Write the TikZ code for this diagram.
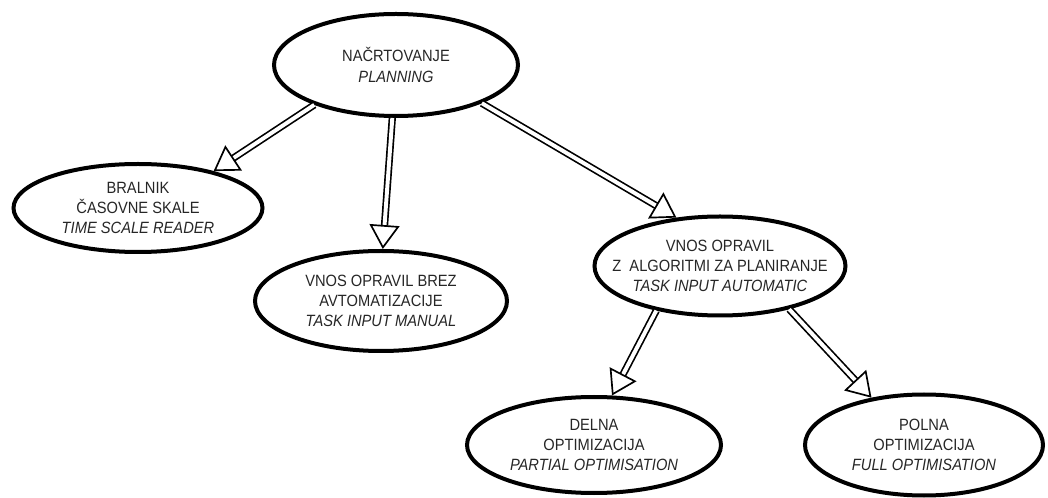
\documentclass[tikz,border=0pt]{standalone}
\usepackage{fontspec}
\setmainfont{Liberation Sans}[FakeStretch=0.9]
\usepackage{tikz}
\usetikzlibrary{positioning, arrows.meta, shapes.geometric}

\begin{document}
\begin{tikzpicture}[on grid,
    stage/.style={draw, ellipse, line width=0.1cm, inner xsep=-1cm, inner ysep=-0.2cm,
        align=center, text=black!85, font=\fontsize{11.6}{14.4}\selectfont},
    dbl/.style={double, double distance=2.8pt, line width=1.2pt,
        -{Triangle[open, length=0.6cm, width=0.75cm, line width=1.2pt]}}]
    \useasboundingbox (0,0) rectangle (26.2,-12.45);

    \node (A) [stage, minimum width=6.1cm, minimum height=2.55cm] at (9.9,-1.625)
        {NAČRTOVANJE\\\textit{PLANNING}};
    \node (B) [stage, minimum width=6.225cm, minimum height=2.2cm, below left=3.575cm and 6.45cm of A]
        {BRALNIK\\ČASOVNE SKALE\\\textit{TIME SCALE READER}};
    \node (C) [stage, minimum width=6.3cm, minimum height=2.5cm, below right=2.325cm and 6.075cm of B]
        {VNOS OPRAVIL BREZ\\AVTOMATIZACIJE\\\textit{TASK INPUT MANUAL}};
    \node (D) [stage, minimum width=6.275cm, minimum height=2.475cm, below right=5.025cm and 8.1cm of A]
        {VNOS OPRAVIL\\Z\ \ ALGORITMI ZA PLANIRANJE\\\textit{TASK INPUT AUTOMATIC}};
    \node (E) [stage, minimum width=6.35cm, minimum height=2.4cm, below left=4.475cm and 3.15cm of D]
        {DELNA\\OPTIMIZACIJA\\\textit{PARTIAL OPTIMISATION}};
    \node (F) [stage, minimum width=5.95cm, minimum height=2.525cm, right=8.25cm of E]
        {POLNA\\OPTIMIZACIJA\\\textit{FULL OPTIMISATION}};

    \draw[dbl] (A.206) -- (B.26);
    \draw[dbl] (A.266) -- (C.88);
    \draw[dbl] (A.336) -- (D.132);
    \draw[dbl] (D.215) -- (E.70);
    \draw[dbl] (D.328) -- (F.138);
\end{tikzpicture}
\end{document}
